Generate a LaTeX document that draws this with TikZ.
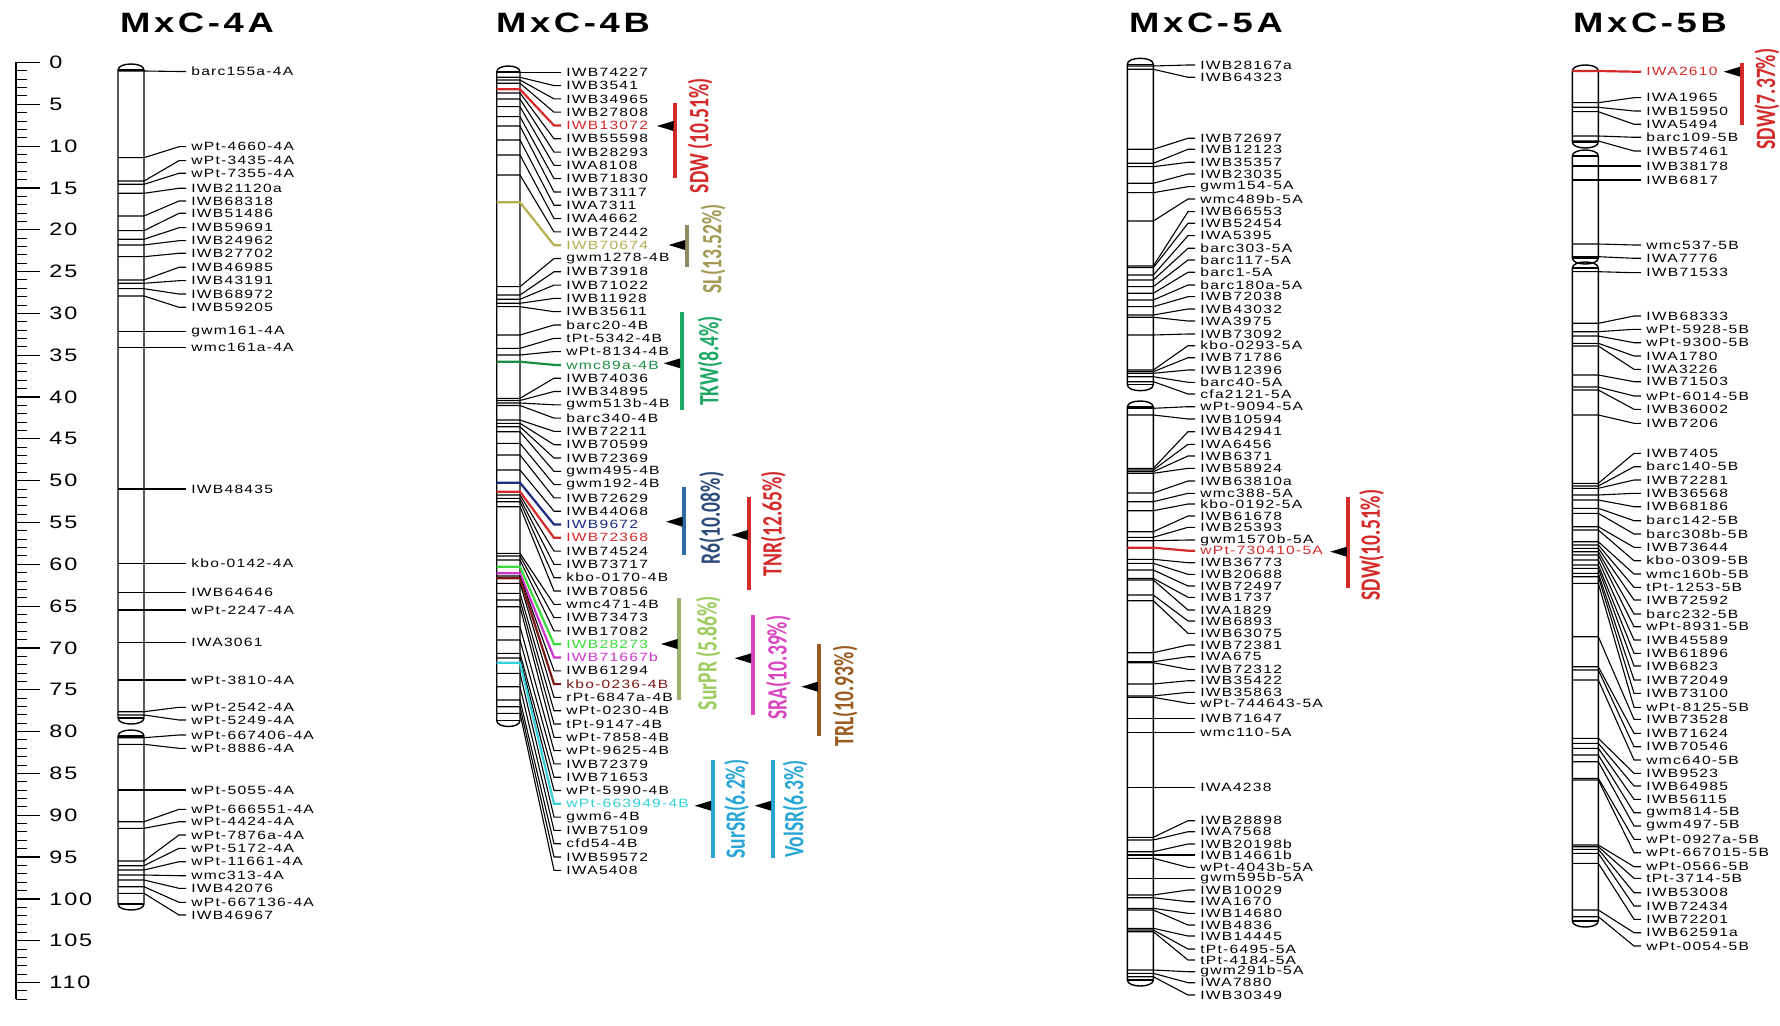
\documentclass[tikz,border=0pt]{standalone}
\usepackage{fontspec}
\setmainfont{Liberation Sans}
\newfontfamily\labfont[LetterSpace=8]{Liberation Sans}
\newfontfamily\rulfont[LetterSpace=8]{Liberation Sans}
\newfontfamily\titfont[LetterSpace=10]{Liberation Sans}
\newfontfamily\qfont{Carlito}
\usetikzlibrary{calc}

\definecolor{cred}{HTML}{D42A2A}
\definecolor{colive}{HTML}{B5AE4E}
\definecolor{colivebar}{HTML}{8E8B63}
\definecolor{colivetxt}{HTML}{A39B55}
\definecolor{cgreen}{HTML}{1E8C45}
\definecolor{ctkw}{HTML}{1FA865}
\definecolor{cnavy}{HTML}{1C2A80}
\definecolor{cr6bar}{HTML}{2C6BA5}
\definecolor{cr6txt}{HTML}{2F4D7C}
\definecolor{clime}{HTML}{3BDB3B}
\definecolor{csurprbar}{HTML}{9CAF6C}
\definecolor{csurprtxt}{HTML}{9CCB5E}
\definecolor{cmag}{HTML}{CC35CC}
\definecolor{csra}{HTML}{D946C0}
\definecolor{cmaroon}{HTML}{7A1818}
\definecolor{ctrl}{HTML}{9A5B20}
\definecolor{ccyan}{HTML}{35D0D8}
\definecolor{cblue}{HTML}{2AA6D6}

\newcounter{mk}
\newcommand\setchr[3]{\def\XL{#1}\def\XR{#2}\def\XT{#3}}
\newcommand\mk[3]{%
  \stepcounter{mk}\edef\mkn{\arabic{mk}}%
  \coordinate (b\mkn) at (\XR,#1);
  \node[lab] (m\mkn) at (\XT,#2) {\scalebox{1.3}[1]{#3}};
  \draw[con] (\XL,#1) -- (b\mkn) -- ($(m\mkn.west)+(-12,0)$) -- ($(m\mkn.west)+(-5,0)$);
}
\newcommand\mkc[4]{%
  \stepcounter{mk}\edef\mkn{\arabic{mk}}%
  \coordinate (b\mkn) at (\XR,#2);
  \node[lab,text=#1] (m\mkn) at (\XT,#3) {\scalebox{1.3}[1]{#4}};
  \draw[ccon,draw=#1] (\XL,#2) -- (b\mkn) -- ($(m\mkn.west)+(-12,0)$) -- ($(m\mkn.west)+(-5,0)$);
}
\newcommand\chrom[4]{%
  \draw[chr] (#1,#3+6) .. controls (#1,#3-2) and (#2,#3-2) .. (#2,#3+6) -- (#2,#4-6)
     .. controls (#2,#4+2) and (#1,#4+2) .. (#1,#4-6) -- cycle;
  \draw[chr] (#1,#3+6) -- (#2,#3+6) (#1,#4-6) -- (#2,#4-6);
}
\newcommand\qbar[6]{%
  \coordinate (#1t) at (#2,#3); \coordinate (#1b) at (#2,#4);
  \draw[line width=2pt,draw=#6] (#1t) -- (#1b);
  \fill[black] (#2-1.5,#5-5) -- (#2-18,#5) -- (#2-1.5,#5+5) -- cycle;
}
\newcommand\qt[1]{\scalebox{0.7}[1]{#1}}

\tikzset{
  lab/.style={font=\labfont\fontsize{6}{6}\selectfont, anchor=west, inner sep=0pt},
  con/.style={line width=0.55pt},
  ccon/.style={line width=1.1pt},
  chr/.style={line width=0.7pt},
  ttl/.style={font=\titfont\bfseries\fontsize{14}{14}\selectfont, inner sep=0pt},
  rnum/.style={font=\rulfont\fontsize{9}{9}\selectfont, anchor=west, inner sep=0pt},
  qtxt/.style={font=\qfont\bfseries\fontsize{14}{14}\selectfont, rotate=90, inner sep=0pt},
}

\begin{document}
\begin{tikzpicture}[x=0.5pt,y=-0.5pt]
\useasboundingbox (0,0) rectangle (1780,1026);
\fill[white] (0,0) rectangle (1780,1026);

% titles
\node[ttl] (t4a) at (197,23) {\scalebox{1.3}[1]{MxC-4A}};
\node[ttl] (t4b) at (573,23) {\scalebox{1.3}[1]{MxC-4B}};
\node[ttl] (t5a) at (1206,23) {\scalebox{1.3}[1]{MxC-5A}};
\node[ttl] (t5b) at (1650,23) {\scalebox{1.3}[1]{MxC-5B}};

% ruler
\draw[line width=0.7pt] (16,62.5) -- (16,999.3);
\foreach \i [evaluate=\i as \yy using 62.5+8.364*\i] in {0,...,112}
  {\draw[line width=0.5pt] (16,\yy) -- (27,\yy);}
\foreach \i [evaluate=\i as \yy using 62.5+8.364*\i] in {0,5,...,110}
  {\draw[line width=0.6pt] (16,\yy) -- (40,\yy);
   \node[rnum] (r\i) at (49,\yy) {\scalebox{1.3}[1]{\i}};}

% ---------------- MxC-4A
\chrom{118}{144}{64}{724}
\chrom{118}{144}{730}{910}
\setchr{118}{144}{191}
\mk{71}{71.5}{barc155a-4A}
\mk{157.7}{146.7}{wPt-4660-4A}
\mk{181}{160.7}{wPt-3435-4A}
\mk{184.3}{173.3}{wPt-7355-4A}
\mk{193.3}{188.3}{IWB21120a}
\mk{216}{201}{IWB68318}
\mk{230.7}{213.3}{IWB51486}
\mk{239.3}{227.7}{IWB59691}
\mk{245}{240.7}{IWB24962}
\mk{256.7}{253.3}{IWB27702}
\mk{280}{267.3}{IWB46985}
\mk{283.3}{280.7}{IWB43191}
\mk{288.7}{294}{IWB68972}
\mk{296}{307.3}{IWB59205}
\mk{331.7}{331.7}{gwm161-4A}
\mk{347.7}{347.7}{wmc161a-4A}
\mk{489}{489}{IWB48435}
\mk{563.3}{563.3}{kbo-0142-4A}
\mk{592.7}{592.7}{IWB64646}
\mk{610}{610}{wPt-2247-4A}
\mk{642.7}{642.7}{IWA3061}
\mk{680}{680}{wPt-3810-4A}
\mk{711.7}{707.3}{wPt-2542-4A}
\mk{715}{720}{wPt-5249-4A}
\mk{737.7}{735}{wPt-667406-4A}
\mk{744.3}{748.3}{wPt-8886-4A}
\mk{790}{790}{wPt-5055-4A}
\mk{821.7}{809.3}{wPt-666551-4A}
\mk{828.3}{821.7}{wPt-4424-4A}
\mk{861}{835}{wPt-7876a-4A}
\mk{865.7}{848.3}{wPt-5172-4A}
\mk{870}{861.7}{wPt-11661-4A}
\mk{875}{875.7}{wmc313-4A}
\mk{880}{888.3}{IWB42076}
\mk{886.7}{902.3}{wPt-667136-4A}
\mk{893.3}{915}{IWB46967}

% ---------------- MxC-4B
\chrom{496.7}{520}{66}{726.5}
\setchr{496.7}{520}{566}
\mk{72.3}{72.3}{IWB74227}
\mk{77.3}{85.6}{IWB3541}
\mk{80}{98.9}{IWB34965}
\mk{83.3}{112.2}{IWB27808}
\mkc{cred}{89.3}{125.5}{IWB13072}
\mk{93}{138.8}{IWB55598}
\mk{99}{152.1}{IWB28293}
\mk{106.7}{165.4}{IWA8108}
\mk{116.7}{178.7}{IWB71830}
\mk{126}{192}{IWB73117}
\mk{140}{205.3}{IWA7311}
\mk{155}{218.6}{IWA4662}
\mk{175}{231.9}{IWB72442}
\mkc{colive}{202.3}{245.2}{IWB70674}
\mk{286.7}{258.5}{gwm1278-4B}
\mk{295}{271.8}{IWB73918}
\mk{299.3}{285.1}{IWB71022}
\mk{303.3}{298.4}{IWB11928}
\mk{306.7}{311.7}{IWB35611}
\mk{335}{325}{barc20-4B}
\mk{348.3}{338.3}{tPt-5342-4B}
\mk{355}{351.6}{wPt-8134-4B}
\mkc{cgreen}{361.7}{364.9}{wmc89a-4B}
\mk{398.3}{378.2}{IWB74036}
\mk{400.5}{391.5}{IWB34895}
\mk{403}{404.8}{gwm513b-4B}
\mk{405.5}{418.1}{barc340-4B}
\mk{420}{431.4}{IWB72211}
\mk{423.3}{444.7}{IWB70599}
\mk{426.7}{458}{IWB72369}
\mk{431.7}{471.3}{gwm495-4B}
\mk{443.3}{484.6}{gwm192-4B}
\mk{455}{497.9}{IWB72629}
\mk{470}{511.2}{IWB44068}
\mkc{cnavy}{482.7}{524.5}{IWB9672}
\mkc{cred}{491.7}{537.8}{IWB72368}
\mk{495}{551.1}{IWB74524}
\mk{498.3}{564.4}{IWB73717}
\mk{501.7}{577.7}{kbo-0170-4B}
\mk{506.7}{591}{IWB70856}
\mk{553.3}{604.3}{wmc471-4B}
\mk{556}{617.6}{IWB73473}
\mk{560}{630.9}{IWB17082}
\mkc{clime}{566.7}{644.2}{IWB28273}
\mkc{cmag}{573.3}{657.5}{IWB71667b}
\mk{576}{670.8}{IWB61294}
\mkc{cmaroon}{578.3}{684.1}{kbo-0236-4B}
\mk{583.3}{697.4}{rPt-6847a-4B}
\mk{593.3}{710.7}{wPt-0230-4B}
\mk{600}{724}{tPt-9147-4B}
\mk{606.7}{737.3}{wPt-7858-4B}
\mk{626.7}{750.6}{wPt-9625-4B}
\mk{640}{763.9}{IWB72379}
\mk{653.3}{777.2}{IWB71653}
\mk{658}{790.5}{wPt-5990-4B}
\mkc{ccyan}{662.7}{803.8}{wPt-663949-4B}
\mk{673.3}{817.1}{gwm6-4B}
\mk{686.7}{830.4}{IWB75109}
\mk{700}{843.7}{cfd54-4B}
\mk{706.7}{857}{IWB59572}
\mk{713.3}{870.3}{IWA5408}

% QTLs on 4B
\qbar{q1}{675}{103.3}{178.3}{126}{cred}
\node[qtxt,text=cred] (q1x) at (700,135.5) {\qt{SDW (10.51\%)}};
\qbar{q2}{686.7}{225}{266.7}{245}{colivebar}
\node[qtxt,text=colivetxt] (q2x) at (713,249) {\qt{SL(13.52\%)}};
\qbar{q3}{681.7}{311.7}{410}{363.3}{ctkw}
\node[qtxt,text=ctkw] (q3x) at (710,361) {\qt{TKW(8.4\%)}};
\qbar{q4}{684}{486.7}{555}{521.7}{cr6bar}
\node[qtxt,text=cr6txt] (q4x) at (711.7,518) {\qt{R6(10.08\%)}};
\qbar{q5}{749.3}{496.7}{590}{535}{cred}
\node[qtxt,text=cred] (q5x) at (773.3,524) {\qt{TNR(12.65\%)}};
\qbar{q6}{679}{598.3}{700}{644}{csurprbar}
\node[qtxt,text=csurprtxt] (q6x) at (708.3,653) {\qt{SurPR (5.86\%)}};
\qbar{q7}{752.7}{615}{715}{658.3}{csra}
\node[qtxt,text=csra] (q7x) at (778.3,667.5) {\qt{SRA(10.39\%)}};
\qbar{q8}{819.3}{644}{736}{686.7}{ctrl}
\node[qtxt,text=ctrl] (q8x) at (845,696) {\qt{TRL(10.93\%)}};
\qbar{q9}{712.7}{760}{858.3}{805.7}{cblue}
\node[qtxt,text=cblue] (q9x) at (736.7,809) {\qt{SurSR(6.2\%)}};
\qbar{q10}{772.7}{760}{858.3}{805.7}{cblue}
\node[qtxt,text=cblue] (q10x) at (795,809) {\qt{VolSR(6.3\%)}};

% ---------------- MxC-5A
\chrom{1127.3}{1153.3}{58.3}{390.7}
\chrom{1127.3}{1153.3}{401}{986}
\setchr{1127.3}{1153.3}{1200}
\mk{66}{65}{IWB28167a}
\mk{69.3}{77.3}{IWB64323}
\mk{149.3}{138.3}{IWB72697}
\mk{163.3}{149.3}{IWB12123}
\mk{166.7}{162.3}{IWB35357}
\mk{183.3}{174}{IWB23035}
\mk{192.7}{186.7}{gwm154-5A}
\mk{221}{199}{wmc489b-5A}
\mk{266}{211.7}{IWB66553}
\mk{267.7}{223.3}{IWB52454}
\mk{275}{235.7}{IWA5395}
\mk{280}{248.3}{barc303-5A}
\mk{286.7}{260}{barc117-5A}
\mk{293.3}{272.3}{barc1-5A}
\mk{300}{285}{barc180a-5A}
\mk{306.7}{296.7}{IWB72038}
\mk{315}{309}{IWB43032}
\mk{317.3}{321}{IWA3975}
\mk{335}{334}{IWB73092}
\mk{370}{345.7}{kbo-0293-5A}
\mk{371.7}{357.7}{IWB71786}
\mk{373.3}{370}{IWB12396}
\mk{376.7}{382.3}{barc40-5A}
\mk{381.7}{394}{cfa2121-5A}
\mk{408.3}{406.7}{wPt-9094-5A}
\mk{415}{419}{IWB10594}
\mk{468.3}{431.7}{IWB42941}
\mk{470}{444.3}{IWA6456}
\mk{471.7}{456}{IWB6371}
\mk{473.3}{468.3}{IWB58924}
\mk{493}{481}{IWB63810a}
\mk{501.7}{493.3}{wmc388-5A}
\mk{510.7}{504}{kbo-0192-5A}
\mk{531.7}{516}{IWB61678}
\mk{537.3}{527.3}{IWB25393}
\mk{540.7}{540}{gwm1570b-5A}
\mkc{cred}{547.7}{550.7}{wPt-730410-5A}
\mk{559.3}{562.7}{IWB36773}
\mk{563.3}{574.3}{IWB20688}
\mk{570}{586}{IWB72497}
\mk{578.3}{597.3}{IWB1737}
\mk{580}{610}{IWA1829}
\mk{595}{621}{IWB6893}
\mk{600.7}{633.3}{IWB63075}
\mk{652.7}{645}{IWB72381}
\mk{661.7}{656.7}{IWA675}
\mk{662.7}{669.3}{IWB72312}
\mk{684}{680.7}{IWB35422}
\mk{696}{692.3}{IWB35863}
\mk{697.3}{703.3}{wPt-744643-5A}
\mk{718.3}{718.3}{IWB71647}
\mk{732.3}{732.3}{wmc110-5A}
\mk{787.3}{787.3}{IWA4238}
\mk{837.3}{820.7}{IWB28898}
\mk{840}{831.7}{IWA7568}
\mk{851.7}{844}{IWB20198b}
\mk{855}{855}{IWB14661b}
\mk{858.3}{867.3}{wPt-4043b-5A}
\mk{878.3}{878.3}{gwm595b-5A}
\mk{895}{890}{IWB10029}
\mk{897.7}{901.7}{IWA1670}
\mk{908.3}{913.3}{IWB14680}
\mk{910}{925}{IWB4836}
\mk{928.3}{936}{IWB14445}
\mk{930}{949}{tPt-6495-5A}
\mk{931.7}{960}{tPt-4184-5A}
\mk{970}{971.7}{gwm291b-5A}
\mk{973.3}{982.7}{IWA7880}
\mk{976.7}{995}{IWB30349}

\qbar{q11}{1348.3}{496.7}{588.3}{551.7}{cred}
\node[qtxt,text=cred] (q11x) at (1371.7,545) {\qt{SDW(10.51\%)}};

% ---------------- MxC-5B
\chrom{1572.3}{1598.3}{65}{148}
\chrom{1572.3}{1598.3}{150}{264}
\chrom{1572.3}{1598.3}{262}{927}
\setchr{1572.3}{1598.3}{1646}
\mkc{cred}{71}{71.7}{IWA2610}
\mk{102.7}{97.7}{IWA1965}
\mk{107.3}{111}{IWB15950}
\mk{111.7}{124.3}{IWA5494}
\mk{136}{137.3}{barc109-5B}
\mk{141}{151}{IWB57461}
\mk{166}{166}{IWB38178}
\mk{180}{180}{IWB6817}
\mk{244}{245}{wmc537-5B}
\mk{256.7}{258.3}{IWA7776}
\mk{271.7}{272.7}{IWB71533}
\mk{323.3}{316}{IWB68333}
\mk{331.7}{329.3}{wPt-5928-5B}
\mk{336}{342.7}{wPt-9300-5B}
\mk{343.3}{356}{IWA1780}
\mk{346}{369.3}{IWA3226}
\mk{375}{381.7}{IWB71503}
\mk{387}{396}{wPt-6014-5B}
\mk{390}{409.3}{IWB36002}
\mk{415}{423.3}{IWB7206}
\mk{483.3}{453.3}{IWB7405}
\mk{486}{466.7}{barc140-5B}
\mk{488.3}{480}{IWB72281}
\mk{495}{493.3}{IWB36568}
\mk{500}{506.7}{IWB68186}
\mk{508.3}{520.7}{barc142-5B}
\mk{513.3}{534}{barc308b-5B}
\mk{526.7}{547.3}{IWB73644}
\mk{530}{560.7}{kbo-0309-5B}
\mk{541.7}{574}{wmc160b-5B}
\mk{545}{587.3}{tPt-1253-5B}
\mk{548.3}{600}{IWB72592}
\mk{551.7}{614}{barc232-5B}
\mk{555}{626.7}{wPt-8931-5B}
\mk{560}{640}{IWB45589}
\mk{565}{653.3}{IWB61896}
\mk{568.3}{666}{IWB6823}
\mk{573.3}{680}{IWB72049}
\mk{576.7}{693.3}{IWB73100}
\mk{583.3}{707.3}{wPt-8125-5B}
\mk{636.7}{719.3}{IWB73528}
\mk{666.7}{733.3}{IWB71624}
\mk{670}{746.7}{IWB70546}
\mk{680}{760}{wmc640-5B}
\mk{738.3}{773.3}{IWB9523}
\mk{743.3}{786}{IWB64985}
\mk{748.3}{799.3}{IWB56115}
\mk{755}{812.7}{gwm814-5B}
\mk{761.7}{826}{gwm497-5B}
\mk{778.3}{839.3}{wPt-0927a-5B}
\mk{780}{852.7}{wPt-667015-5B}
\mk{845}{866.7}{wPt-0566-5B}
\mk{846.7}{878.3}{tPt-3714-5B}
\mk{849.3}{892.7}{IWB53008}
\mk{853.3}{906}{IWB72434}
\mk{863.3}{919.3}{IWB72201}
\mk{910}{932.7}{IWB62591a}
\mk{916.7}{946}{wPt-0054-5B}

\qbar{q12}{1741.7}{63.3}{125}{71.7}{cred}
\node[qtxt,text=cred] (q12x) at (1766.7,99) {\qt{SDW(7.37\%)}};
\end{tikzpicture}
\end{document}
